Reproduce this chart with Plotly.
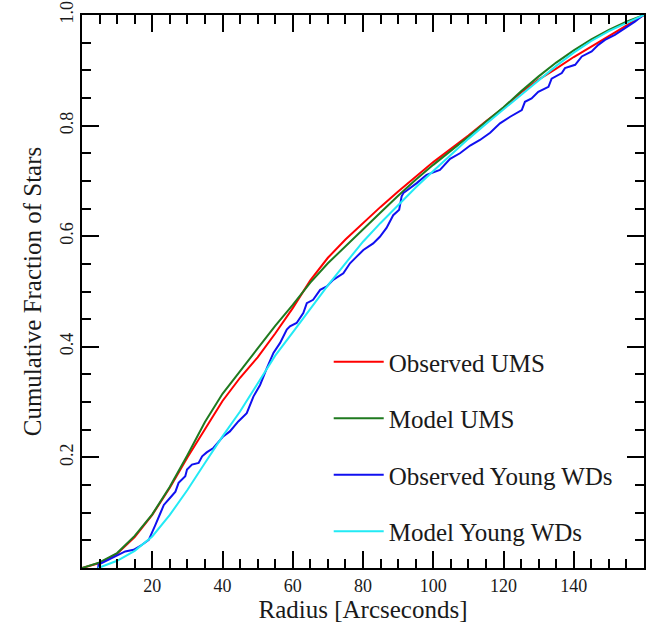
import plotly.graph_objects as go

# ---- data ----
ums_obs_x = [0, 5, 10, 15, 20, 25, 30, 35, 40, 45, 50, 55, 60, 65, 70, 75, 80, 85, 90, 95,
             100, 105, 110, 115, 120, 125, 130, 135, 140, 145, 150, 155, 160]
ums_obs_y = [0, 0.009, 0.026, 0.056, 0.096, 0.145, 0.200, 0.252, 0.302, 0.344, 0.381, 0.424,
             0.470, 0.520, 0.561, 0.594, 0.624, 0.653, 0.681, 0.708, 0.734, 0.758, 0.782,
             0.808, 0.832, 0.860, 0.883, 0.903, 0.924, 0.943, 0.962, 0.982, 1.0]

ums_mod_x = [0, 5, 10, 15, 20, 25, 30, 35, 40, 45, 50, 55, 60, 65, 70, 75, 80, 85, 90, 95,
             100, 105, 110, 115, 120, 125, 130, 135, 140, 145, 150, 155, 160]
ums_mod_y = [0, 0.010, 0.027, 0.058, 0.097, 0.147, 0.204, 0.264, 0.315, 0.356, 0.395, 0.438,
             0.476, 0.516, 0.551, 0.582, 0.612, 0.643, 0.673, 0.702, 0.729, 0.754, 0.780,
             0.807, 0.833, 0.862, 0.889, 0.914, 0.936, 0.956, 0.973, 0.988, 1.0]

wd_obs_x = [4.6, 4.7, 6.6, 9.5, 12.3, 14.7, 17.1, 19.0, 19.9, 20.9, 22.3, 23.3, 25.1, 26.6,
            27.5, 29.4, 29.9, 31.3, 33.2, 34.2, 35.5, 37.4, 40.2, 42.1, 44.5, 46.9, 48.8,
            50.7, 52.6, 54.5, 56.4, 58.3, 59.2, 61.1, 63.0, 64.0, 65.8, 67.8, 69.7, 71.5,
            74.4, 76.3, 78.2, 80.1, 82.9, 84.8, 86.7, 88.6, 90.3, 91.0, 91.5, 95.3, 98.1,
            101.9, 104.8, 107.6, 110.5, 113.3, 116.2, 119.0, 121.9, 125.2, 126.1, 128.0,
            129.9, 132.8, 133.7, 136.6, 137.5, 140.4, 142.3, 145.1, 147.0, 148.9, 151.7,
            154.6, 157.4, 159.8]
wd_obs_y = [0, 0.006, 0.012, 0.021, 0.030, 0.033, 0.042, 0.051, 0.063, 0.078, 0.099, 0.114,
            0.127, 0.138, 0.154, 0.166, 0.178, 0.187, 0.190, 0.202, 0.209, 0.217, 0.238,
            0.247, 0.265, 0.280, 0.310, 0.331, 0.361, 0.389, 0.407, 0.431, 0.437, 0.443,
            0.461, 0.479, 0.485, 0.503, 0.509, 0.521, 0.533, 0.551, 0.563, 0.575, 0.587,
            0.599, 0.615, 0.638, 0.648, 0.672, 0.678, 0.696, 0.711, 0.720, 0.740, 0.750,
            0.764, 0.774, 0.787, 0.804, 0.816, 0.828, 0.843, 0.849, 0.861, 0.870, 0.885,
            0.895, 0.904, 0.910, 0.925, 0.934, 0.946, 0.955, 0.964, 0.976, 0.988, 1.0]

wd_mod_x = [4.6, 10, 15, 20, 25, 30, 35, 40, 45, 50, 55, 60, 65, 70, 75, 80, 85, 90, 95, 100,
            105, 110, 115, 120, 125, 130, 135, 140, 145, 150, 155, 160]
wd_mod_y = [0, 0.013, 0.031, 0.057, 0.096, 0.141, 0.190, 0.238, 0.283, 0.333, 0.384, 0.426,
            0.469, 0.511, 0.551, 0.590, 0.624, 0.656, 0.688, 0.718, 0.747, 0.776, 0.803,
            0.829, 0.855, 0.882, 0.908, 0.932, 0.953, 0.971, 0.986, 1.0]

x_tick_vals = [20, 40, 60, 80, 100, 120, 140]
x_tick_text = ["20", "40", "60", "80", "100", "120", "140"]
y_tick_vals = [0.2, 0.4, 0.6, 0.8, 1.0]
y_tick_text = ["0.2", "0.4", "0.6", "0.8", "1.0"]

FONT = "Liberation Serif, Times New Roman, serif"
TXT = "#1a1a1a"

fig = go.Figure()
series = [
    (ums_obs_x, ums_obs_y, "Observed UMS", "#ff0000"),
    (ums_mod_x, ums_mod_y, "Model UMS", "#1f7a1f"),
    (wd_obs_x, wd_obs_y, "Observed Young WDs", "#1010f0"),
    (wd_mod_x, wd_mod_y, "Model Young WDs", "#22eaf5"),
]
for i, (xs, ys, name, col) in enumerate(series):
    fig.add_trace(go.Scatter(x=xs, y=ys, mode="lines", name=name,
                             legendgroup=f"g{i}",
                             line=dict(color=col, width=2)))

fig.update_xaxes(
    range=[0, 160], tickmode="array", tickvals=x_tick_vals, ticktext=x_tick_text,
    showline=True, linecolor="black", linewidth=2, mirror="ticks",
    ticks="inside", ticklen=17, tickwidth=2, tickcolor="black",
    showgrid=False, zeroline=False,
    tickfont=dict(family=FONT, size=18, color=TXT),
    minor=dict(ticks="inside", tickmode="linear", tick0=0, dtick=5, ticklen=9,
               tickwidth=1.5, tickcolor="black"),
    title=dict(text="Radius [Arcseconds]", font=dict(family=FONT, size=25, color=TXT),
               standoff=6),
)
fig.update_yaxes(
    range=[0, 1], tickmode="array", tickvals=y_tick_vals, ticktext=y_tick_text,
    tickangle=-90, ticklabeloverflow="allow",
    showline=True, linecolor="black", linewidth=2, mirror="ticks",
    ticks="inside", ticklen=17, tickwidth=2, tickcolor="black",
    showgrid=False, zeroline=False,
    tickfont=dict(family=FONT, size=18, color=TXT),
    minor=dict(ticks="inside", tickmode="linear", tick0=0, dtick=0.05, ticklen=9,
               tickwidth=1.5, tickcolor="black"),
    title=dict(text="Cumulative Fraction of Stars", font=dict(family=FONT, size=25, color=TXT),
               standoff=8),
)

fig.update_layout(
    width=662, height=633,
    font=dict(family=FONT, size=18, color=TXT),
    margin=dict(l=82, r=18, t=15, b=65, autoexpand=False),
    paper_bgcolor="white", plot_bgcolor="white",
    showlegend=True,
    legend=dict(x=0.439, y=0.414, xanchor="left", yanchor="top",
                bgcolor="rgba(0,0,0,0)", borderwidth=0,
                font=dict(family=FONT, size=25, color=TXT),
                traceorder="grouped", tracegroupgap=21, itemwidth=50),
)

# remove the browser's default 8px page margin so the figure fills the window exactly
fig.write_html("out.html",
               config={"displayModeBar": False},
               post_script="document.body.style.margin='0';document.body.style.overflow='hidden';")
